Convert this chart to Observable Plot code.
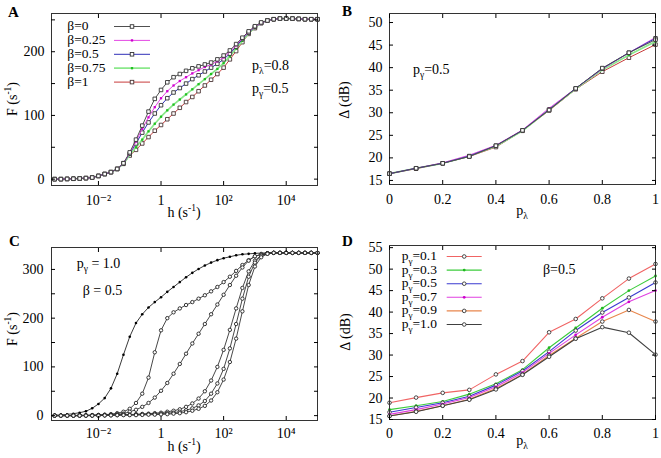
<!DOCTYPE html>
<html><head><meta charset="utf-8">
<script src="https://cdn.jsdelivr.net/npm/d3@7"></script>
<script src="https://cdn.jsdelivr.net/npm/@observablehq/plot@0.6"></script>
<style>
body{margin:0;background:#fff}
#root{position:relative;width:661px;height:458px;background:#fff;overflow:hidden}
.panel{position:absolute}
#overlay{position:absolute;left:0;top:0}
#overlay text{font-family:"Liberation Serif","Tinos","Times New Roman","DejaVu Serif",serif;fill:#000}
</style></head><body>
<div id="root">
<div class="panel" id="pA" style="left:0;top:0;width:330px;height:229px"></div>
<div class="panel" id="pB" style="left:330px;top:0;width:331px;height:229px"></div>
<div class="panel" id="pC" style="left:0;top:229px;width:330px;height:229px"></div>
<div class="panel" id="pD" style="left:330px;top:229px;width:331px;height:229px"></div>
<svg id="overlay" width="661" height="458"></svg>
</div>
<script>
// ---------------- DATA ----------------
// log10 of h (s^-1) sample grid for panels A and C
const logH = [-3.4,-3.2,-3.0,-2.8,-2.6,-2.4,-2.2,-2.0,-1.8,-1.6,-1.4,-1.2,-1.0,-0.8,-0.6,-0.4,-0.2,0,0.2,0.4,0.6,0.8,1.0,1.2,1.4,1.6,1.8,2.0,2.2,2.4,2.6,2.8,3.0,3.2,3.4,3.6,3.8,4.0,4.2,4.4,4.6,4.8,5.0];

// Panel A: F (s^-1) for each beta
const betaVals = ["0","0.25","0.5","0.75","1"];
const A_beta0    = [0,0,0.3,0.6,1,1.6,2.5,5,8,11,16,25, 42,62,84,106,126,140, 152,160,165,170,174,177,180,183,188,194,202,212,222,232,240, 246,249,251,252,252,252,251.5,251,251,251];
const A_beta025  = [0,0,0.3,0.6,1,1.6,2.5,5,8,11,16,25, 41,59,79,97,113,127, 138,147,154,160,166,171,176,180,185,191,200,210,221,231,239, 245,249,251,252,252,252,251.5,251,251,251];
const A_beta05   = [0,0,0.3,0.6,1,1.6,2.5,5,8,11,16,25, 40,56,73,89,103,116, 127,136,143,150,157,163,169,175,181,188,197,208,220,230,239, 245,249,251,252,252,252,251.5,251,251,251];
const A_beta075  = [0,0,0.3,0.6,1,1.6,2.5,5,8,11,16,24, 38,50,62,75,87,98, 108,117,125,133,141,149,157,165,173,182,193,205,217,229,238, 245,249,251,252,252,252,251.5,251,251,251];
const A_beta1    = [0,0,0.3,0.6,1,1.6,2.5,5,8,11,16,24, 37,46,56,66,76,85, 94,103,112,121,129,138,147,156,165,175,188,201,215,228,237, 245,249,251,252,252,252,251.5,251,251,251];

// Panel B: Delta (dB) vs p_lambda, one series per beta
const pLambda = [0,0.1,0.2,0.3,0.4,0.5,0.6,0.7,0.8,0.9,1];
const B_beta0   = [16.5,17.7,18.8,20.3,22.7,26.1,30.6,35.4,39.9,43.3,46.2];
const B_beta025 = [16.5,17.7,18.9,20.6,22.8,26.2,31.0,35.4,39.7,43.3,46.7];
const B_beta05  = [16.5,17.7,18.8,20.4,22.7,26.1,30.7,35.4,39.8,43.3,46.5];
const B_beta075 = [16.5,17.7,18.8,20.4,22.6,26.0,30.7,35.3,39.5,42.8,45.8];
const B_beta1   = [16.5,17.6,18.8,20.3,22.4,26.0,30.5,35.2,39.1,42.2,45.1];

// Panel C: F (s^-1) curves, p_gamma = 1.0, beta = 0.5
const C_curve1 = [1,1.5,2.5,4,6,9,15,24,36,56,86,125, 162,190,208,222,233,243, 254,264,274,284,293,301,308,314,319,323,326,329,331,332,333, 333.5,334,334,334,334,334,334,334,334,334];
const C_curve2 = [0,0,0,0.5,0.5,1,1,1.5,2,3,5,8, 14,26,45,78,130,175, 200,212,220,227,233,240,247,255,264,274,285,297,309,319,327, 331,333,334,334,334,334,334,334,334,334];
const C_curve3 = [0,0,0,0,0.5,0.5,1,1,1.5,2,3,4, 8,12,18,26,37,51, 67,86,106,127,148,168,188,208,228,248,268,287,304,318,327, 331,333,334,334,334,334,334,334,334,334];
const C_curve4 = [0,0,0,0,0,0,0.5,0.5,1,1,1.5,2, 2,3,3.5,4,5,6, 8,10,13,18,25,35,50,72,100,135,176,220,262,296,318, 329,333,334,334,334,334,334,334,334,334];
const C_curve5 = [0,0,0,0,0,0,0,0.5,0.5,1,1,1.5, 1.5,2,2.5,3,3.5,4, 5,6,8,11,15,21,30,45,66,96,138,188,240,285,314, 328,333,334,334,334,334,334,334,334,334];
const C_curve6 = [0,0,0,0,0,0,0,0,0.5,0.5,1,1, 1,1,1.5,2,2,2.5, 3,4,5,7,10,14,20,31,48,74,110,158,214,268,306, 325,332,334,334,334,334,334,334,334,334];

// Panel D: Delta (dB) vs p_lambda, one series per p_gamma
const pGammaVals = ["0.1","0.3","0.5","0.7","0.9","1.0"];
const D_pg01 = [18.9,20.1,21.2,21.9,25.5,28.6,35.3,38.4,43.2,47.8,51.2];
const D_pg03 = [17.3,18.2,19.2,20.9,23.3,26.6,31.7,36.3,40.9,45.0,48.4];
const D_pg05 = [16.7,17.8,18.9,20.4,23.0,26.3,30.8,35.7,39.9,43.4,46.9];
const D_pg07 = [16.2,17.3,18.6,20.1,22.6,25.9,30.4,34.7,38.8,42.4,45.0];
const D_pg09 = [15.8,16.9,18.2,19.7,22.2,25.5,29.9,33.9,37.8,40.5,37.8];
const D_pg10 = [15.8,16.8,18.2,19.6,22.0,25.4,29.6,33.8,36.5,35.2,30.1];

// Tick values / labels
const logTicks = [1e-2, 1, 1e2, 1e4];
const logTickText = ["10\u207B\u00B2", "1", "10\u00B2", "10\u2074"];
const yTicksA = [0,50,100,150,200,250];
const yLabelsA = [0,100,200];
const yTicksC = [0,50,100,150,200,250,300];
const yLabelsC = [0,100,200,300];
const pTicks = [0,0.2,0.4,0.6,0.8,1];
const pTickText = ["0","0.2","0.4","0.6","0.8","1"];
const yTicksB = [15,20,25,30,35,40,45,50];
const yTicksD = [15,20,25,30,35,40,45,50,55];

// ---------------- STYLES ----------------
const stylesA = [
  {stroke:"#505050", sw:1, symbol:"square", r:2, fill:"white", ms:"#333"},
  {stroke:"#e448e4", sw:1, symbol:"square", r:1.3, fill:"#d000d0", ms:"none"},
  {stroke:"#3030b8", sw:1, symbol:"square", r:2, fill:"white", ms:"#333"},
  {stroke:"#8be88b", sw:1.7, symbol:"square", r:1.3, fill:"#20c020", ms:"none"},
  {stroke:"#c83c3c", sw:1, symbol:"square", r:2, fill:"white", ms:"#4a3434"}
];
const stylesD = [
  {stroke:"#f06464", sw:1.1, symbol:"circle", r:1.8, fill:"white", ms:"#333"},
  {stroke:"#3ccc3c", sw:1.1, symbol:"circle", r:1.4, fill:"#20b820", ms:"none"},
  {stroke:"#3a3ad0", sw:1.1, symbol:"circle", r:1.8, fill:"white", ms:"#333"},
  {stroke:"#e040e0", sw:1.1, symbol:"circle", r:1.4, fill:"#cc00cc", ms:"none"},
  {stroke:"#e8864c", sw:1.1, symbol:"circle", r:1.8, fill:"white", ms:"#333"},
  {stroke:"#404040", sw:1.1, symbol:"circle", r:1.8, fill:"white", ms:"#333"}
];

// ---------------- BUILD ----------------
const seriesA = [A_beta0, A_beta025, A_beta05, A_beta075, A_beta1];
const seriesB = [B_beta0, B_beta025, B_beta05, B_beta075, B_beta1];
const seriesC = [C_curve1, C_curve2, C_curve3, C_curve4, C_curve5, C_curve6];
const seriesD = [D_pg01, D_pg03, D_pg05, D_pg07, D_pg09, D_pg10];

const toHF = (arr) => arr.map((F, i) => ({h: 10 ** logH[i], F}));
const toPD = (arr) => arr.map((d, i) => ({p: pLambda[i], d}));

function seriesMarks(rows, x, y, st) {
  return [
    Plot.line(rows, {x, y, stroke: st.stroke, strokeWidth: st.sw}),
    Plot.dot(rows, {x, y, symbol: st.symbol, r: st.r, fill: st.fill, stroke: st.ms, strokeWidth: 0.9})
  ];
}

const FONT = '"Liberation Serif","Tinos","Times New Roman","DejaVu Serif",serif';
const plotStyle = {fontFamily: FONT, fontSize: "14px", background: "white", overflow: "visible", color: "#000"};
const blank = () => "";

function frameAxes(xt, xfmt, xPad, ytMinor, ytLab, yPad) {
  return [
    Plot.frame({stroke: "#333", strokeWidth: 1}),
    Plot.axisX(xt, {anchor: "bottom", tickSize: -4, tickFormat: blank, label: null}),
    Plot.axisX(xt, {anchor: "top", tickSize: -4, tickFormat: blank, label: null}),
    Plot.axisY(ytMinor, {anchor: "left", tickSize: -4, tickFormat: blank, label: null}),
    Plot.axisY(ytMinor, {anchor: "right", tickSize: -4, tickFormat: blank, label: null}),
    Plot.axisX(xt, {anchor: "bottom", tickSize: 0, tickPadding: xPad, tickFormat: xfmt, label: null, fontFamily: FONT}),
    Plot.axisY(ytLab, {anchor: "left", tickSize: 0, tickPadding: yPad, label: null, fontFamily: FONT})
  ];
}
const logFmt = (d) => logTickText[logTicks.indexOf(d)];
const pFmt = (d) => pTickText[pTicks.indexOf(d)];

// Panel A
{
  const marks = [];
  for (let s = seriesA.length - 1; s >= 0; s--) marks.push(...seriesMarks(toHF(seriesA[s]), "h", "F", stylesA[s]));
  document.getElementById("pA").append(Plot.plot({
    width: 330, height: 229, marginLeft: 51, marginRight: 13, marginTop: 13, marginBottom: 44,
    x: {type: "log", domain: [10 ** -3.5, 1e5]}, y: {domain: [-10, 260]},
    style: plotStyle,
    marks: [...marks, ...frameAxes(logTicks, logFmt, 10, yTicksA, yLabelsA, 7)]
  }));
}
// Panel B
{
  const order = [4, 3, 1, 2, 0];
  const marks = [];
  for (const s of order) marks.push(...seriesMarks(toPD(seriesB[s]), "p", "d", stylesA[s]));
  document.getElementById("pB").append(Plot.plot({
    width: 331, height: 229, marginLeft: 59, marginRight: 6, marginTop: 13, marginBottom: 45,
    x: {domain: [0, 1]}, y: {domain: [14.1, 52]},
    style: plotStyle,
    marks: [...marks, ...frameAxes(pTicks, pFmt, 9.5, yTicksB, yTicksB, 7)]
  }));
}
// Panel C
{
  const marks = [];
  seriesC.forEach((arr, s) => {
    const st = s === 0
      ? {stroke: "#222", sw: 0.9, symbol: "circle", r: 1.3, fill: "#000", ms: "none"}
      : {stroke: "#333", sw: 0.9, symbol: "circle", r: 1.7, fill: "white", ms: "#222"};
    marks.push(...seriesMarks(toHF(arr), "h", "F", st));
  });
  document.getElementById("pC").append(Plot.plot({
    width: 330, height: 229, marginLeft: 51, marginRight: 13, marginTop: 18, marginBottom: 38,
    x: {type: "log", domain: [10 ** -3.5, 1e5]}, y: {domain: [-10, 345]},
    style: plotStyle,
    marks: [...marks, ...frameAxes(logTicks, logFmt, 8, yTicksC, yLabelsC, 8)]
  }));
}
// Panel D
{
  const marks = [];
  seriesD.forEach((arr, s) => marks.push(...seriesMarks(toPD(arr), "p", "d", stylesD[s])));
  document.getElementById("pD").append(Plot.plot({
    width: 331, height: 229, marginLeft: 59, marginRight: 6, marginTop: 16, marginBottom: 39,
    x: {domain: [0, 1]}, y: {domain: [15, 55.5]},
    style: plotStyle,
    marks: [...marks, ...frameAxes(pTicks, pFmt, 9, yTicksD, yTicksD, 7)]
  }));
}

// ---------------- OVERLAY TEXT / LEGENDS ----------------
const NS = "http://www.w3.org/2000/svg";
const ov = document.getElementById("overlay");
function el(tag, attrs, parent) {
  const e = document.createElementNS(NS, tag);
  for (const k in attrs) if (attrs[k] != null) e.setAttribute(k, attrs[k]);
  parent.append(e);
  return e;
}
function rich(x, y, parts, {size = 14, anchor = "start", rotate = 0, weight = "normal"} = {}) {
  const t = el("text", {
    x: rotate ? 0 : x, y: rotate ? 0 : y, "font-size": size, "text-anchor": anchor, "font-weight": weight,
    "font-family": FONT,
    transform: rotate ? `translate(${x},${y}) rotate(${rotate})` : null
  }, ov);
  let shift = 0;
  for (const [s, kind] of parts) {
    const target = kind === "sub" ? size * 0.3 : kind === "sup" ? -size * 0.4 : 0;
    const ts = el("tspan", {dy: (target - shift).toFixed(2), "font-size": kind ? (size * 0.68).toFixed(2) : size}, t);
    ts.textContent = s;
    shift = target;
  }
}
function legendSample(x1, x2, y, st) {
  el("line", {x1, x2, y1: y, y2: y, stroke: st.stroke, "stroke-width": st.sw}, ov);
  const cx = (x1 + x2) / 2;
  if (st.symbol === "square") {
    const a = st.r * 0.886;
    el("rect", {x: cx - a, y: y - a, width: 2 * a, height: 2 * a, fill: st.fill, stroke: st.ms, "stroke-width": 0.9}, ov);
  } else {
    el("circle", {cx, cy: y, r: st.r, fill: st.fill, stroke: st.ms, "stroke-width": 0.9}, ov);
  }
}

// panel letters
rich(8, 17, [["A"]], {size: 15, weight: "bold"});
rich(342, 16, [["B"]], {size: 15, weight: "bold"});
rich(9, 246, [["C"]], {size: 15, weight: "bold"});
rich(342, 246, [["D"]], {size: 15, weight: "bold"});

// axis titles
rich(16.5, 99, [["F (s"], ["-1", "sup"], [")"]], {anchor: "middle", rotate: -90});
rich(184, 217, [["h (s"], ["-1", "sup"], [")"]], {anchor: "middle"});
rich(349, 100, [["\u0394 (dB)"]], {anchor: "middle", rotate: -90});
rich(522, 215, [["p"], ["\u03BB", "sub"]], {anchor: "middle"});
rich(17, 329, [["F (s"], ["-1", "sup"], [")"]], {anchor: "middle", rotate: -90});
rich(184, 451, [["h (s"], ["-1", "sup"], [")"]], {anchor: "middle"});
rich(349.5, 332, [["\u0394 (dB)"]], {anchor: "middle", rotate: -90});
rich(522, 445, [["p"], ["\u03BB", "sub"]], {anchor: "middle"});

// annotations
rich(252, 70, [["p"], ["\u03BB", "sub"], ["=0.8"]]);
rich(252, 93, [["p"], ["\u03B3", "sub"], ["=0.5"]]);
rich(413, 74, [["p"], ["\u03B3", "sub"], ["=0.5"]]);
rich(76.7, 268, [["p"], ["\u03B3", "sub"], [" = 1.0"]]);
rich(82.7, 295, [["\u03B2 = 0.5"]]);
rich(543, 274, [["\u03B2=0.5"]]);

// legend A
betaVals.forEach((v, i) => {
  const base = 30 + i * 13.9;
  rich(67.3, base, [["\u03B2=" + v]], {size: 13.5});
  legendSample(114, 150, base - 3.5, stylesA[i]);
});
// legend D
pGammaVals.forEach((v, i) => {
  const base = 260 + i * 13.6;
  rich(401.7, base, [["p"], ["\u03B3", "sub"], ["=" + v]], {size: 13.5});
  legendSample(446.7, 481.7, base - 3.5, stylesD[i]);
});
</script>
</body></html>
